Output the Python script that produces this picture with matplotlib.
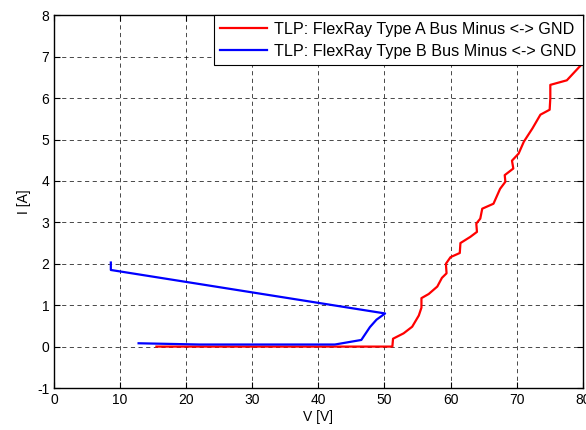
import matplotlib
matplotlib.use("Agg")
import matplotlib.pyplot as plt

plt.rcParams['font.family'] = ['Liberation Sans', 'DejaVu Sans']
plt.rcParams['axes.unicode_minus'] = False

# Type A (red)
va = [15.5, 51.2, 51.3, 52.9, 54.2, 55.2, 55.6, 55.6, 56.7, 58.0, 58.7, 59.4, 59.3,
      60.0, 61.4, 61.5, 63.0, 64.0, 63.9, 64.5, 64.8, 66.5, 67.5, 68.3, 68.2, 69.5,
      69.3, 70.3, 71.1, 72.4, 73.6, 75.0, 75.1, 75.1, 77.6, 79.7, 81.0]
ia = [0.0, 0.0, 0.19, 0.32, 0.48, 0.75, 0.94, 1.17, 1.27, 1.45, 1.66, 1.77, 2.0,
      2.16, 2.26, 2.5, 2.65, 2.77, 2.97, 3.09, 3.33, 3.45, 3.81, 3.98, 4.14, 4.3,
      4.49, 4.66, 4.95, 5.27, 5.6, 5.72, 6.0, 6.32, 6.43, 6.79, 6.95]

# Type B (blue)
vb = [12.8, 22.0, 42.5, 46.5, 47.8, 48.8, 50.1, 8.6, 8.6]
ib = [0.08, 0.05, 0.05, 0.16, 0.47, 0.65, 0.80, 1.85, 2.03]

label_a = 'TLP: FlexRay Type A Bus Minus <-> GND'
label_b = 'TLP: FlexRay Type B Bus Minus <-> GND'

fig = plt.figure(figsize=(5.86, 4.30), dpi=100)
ax = fig.add_axes([54/586, 1-388/430, (582.7-54)/586, (388-15.3)/430])

ax.plot(va, ia, color='red', lw=1.6, label=label_a)
ax.plot(vb, ib, color='blue', lw=1.6, label=label_b)

ax.set_xlim(0, 80)
ax.set_ylim(-1, 8)
ax.set_xticks(range(0, 81, 10))
ax.set_yticks(range(-1, 9))
ax.grid(True, color='black', linestyle=(0, (6, 5)), linewidth=0.5)
ax.tick_params(direction='in', top=True, right=True, length=4, labelsize=10)
for s in ax.spines.values():
    s.set_linewidth(1.0)
ax.set_xlabel('V [V]', fontsize=10, labelpad=2)
ax.set_ylabel('I [A]', fontsize=10)

leg = ax.legend(loc='upper right', borderaxespad=0, fontsize=11.6, handlelength=2.9,
                handletextpad=0.45, labelspacing=0.45,
                fancybox=False, framealpha=1, edgecolor='black')
leg.get_frame().set_linewidth(0.8)

fig.savefig('out.png', dpi=100)
